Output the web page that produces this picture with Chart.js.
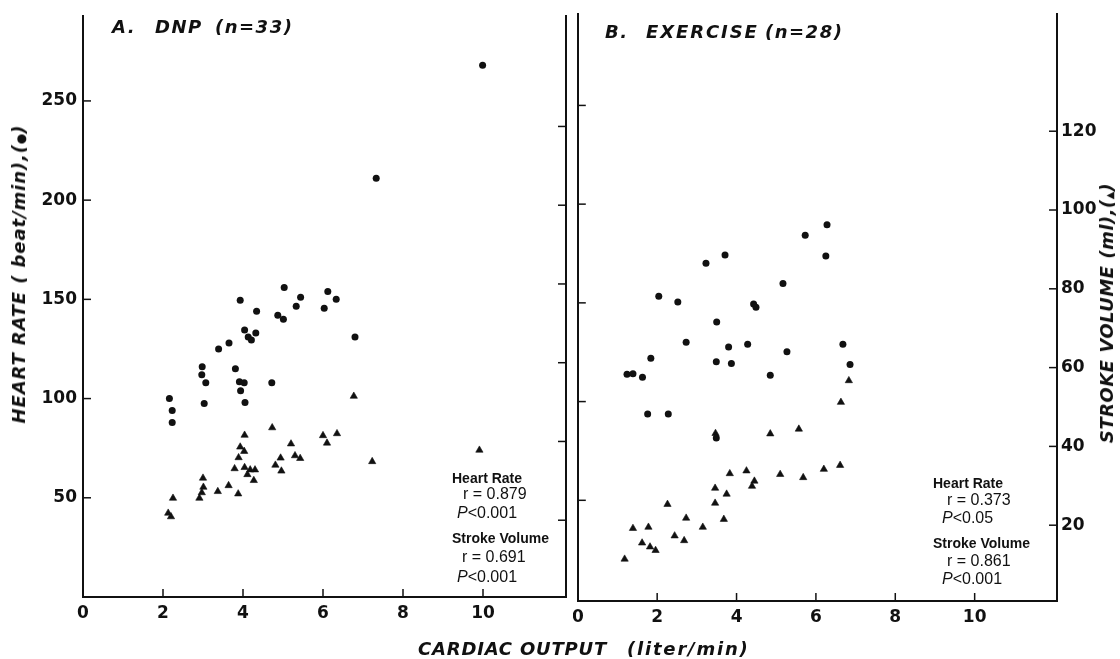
<!DOCTYPE html>
<html>
<head>
<meta charset="utf-8">
<title>Heart rate and stroke volume vs cardiac output</title>
<script src="https://cdn.jsdelivr.net/npm/chart.js@4.4.1/dist/chart.umd.min.js"></script>
<style>
  html, body { margin: 0; padding: 0; background: #fff; }
  #wrap { position: relative; width: 1120px; height: 659px; overflow: hidden; background: #fff; color: #111; }
  canvas { position: absolute; top: 0; }
  #cvA { left: 0; }
  #cvB { left: 573px; }
  .t { position: absolute; white-space: pre; transform: translateY(-50%); line-height: 1; }
  .it { font-family: "DejaVu Sans", sans-serif; font-style: italic; font-weight: bold; font-size: 18px; letter-spacing: 1.5px; }
  .st { font-family: "Liberation Sans", Arial, sans-serif; font-size: 16px; }
  .st b { font-size: 14px; }
  .sym { font-size: 12px; font-style: normal; letter-spacing: 0; }
  .rot { position: absolute; white-space: pre; line-height: 1; transform: translate(-50%, -50%) rotate(-90deg); }
</style>
</head>
<body>
<div id="wrap">
  <canvas id="cvA" width="572" height="659"></canvas>
  <canvas id="cvB" width="547" height="659"></canvas>

  <!-- panel titles -->
  <div class="t it" style="left:112px;top:27px">A.</div>
  <div class="t it" style="left:155px;top:27px">DNP</div>
  <div class="t it" style="left:215px;top:27px">(n=33)</div>
  <div class="t it" style="left:605px;top:32px">B.</div>
  <div class="t it" style="left:646px;top:32px;letter-spacing:1.9px">EXERCISE</div>
  <div class="t it" style="left:765px;top:32px">(n=28)</div>

  <!-- axis titles -->
  <div class="t it" style="left:418px;top:649px;letter-spacing:0.8px">CARDIAC OUTPUT</div>
  <div class="t it" style="left:627px;top:649px;letter-spacing:1.8px">(liter/min)</div>
  <div class="rot it" style="left:19px;top:274px;letter-spacing:0.9px">HEART RATE ( beat/min),(<span class="sym">●</span>)</div>
  <div class="rot it" style="left:1107px;top:313px;letter-spacing:0.5px">STROKE VOLUME (ml),(<span class="sym" style="font-size:10px">▲</span>)</div>

  <!-- stats A -->
  <div class="t st" style="left:452px;top:478px"><b>Heart Rate</b></div>
  <div class="t st" style="left:463px;top:494px">r = 0.879</div>
  <div class="t st" style="left:457px;top:513px"><i>P</i>&lt;0.001</div>
  <div class="t st" style="left:452px;top:538px"><b>Stroke Volume</b></div>
  <div class="t st" style="left:462px;top:557px">r = 0.691</div>
  <div class="t st" style="left:457px;top:577px"><i>P</i>&lt;0.001</div>

  <!-- stats B -->
  <div class="t st" style="left:933px;top:483px"><b>Heart Rate</b></div>
  <div class="t st" style="left:947px;top:500px">r = 0.373</div>
  <div class="t st" style="left:942px;top:518px"><i>P</i>&lt;0.05</div>
  <div class="t st" style="left:933px;top:543px"><b>Stroke Volume</b></div>
  <div class="t st" style="left:947px;top:561px">r = 0.861</div>
  <div class="t st" style="left:942px;top:579px"><i>P</i>&lt;0.001</div>
</div>

<script>
// tick values
const coTicks = [0, 2, 4, 6, 8, 10];
const hrTicks = [50, 100, 150, 200, 250];
const svTicks = [20, 40, 60, 80, 100, 120];

// A. DNP : heart rate (dots)
const dnpCoHr = [5.03, 5.44, 6.12, 6.33, 3.93, 5.33, 6.03, 4.34, 4.87, 5.01, 4.04, 4.32, 4.13, 4.21, 6.80, 3.65,
                 3.39, 2.98, 3.81, 2.97, 3.07, 3.91, 4.03, 4.72, 3.94, 2.16, 3.03, 4.05, 2.23, 2.23, 9.99, 7.33];
const dnpHr   = [156, 151, 154, 150, 149.5, 146.5, 145.5, 144, 142, 140, 134.5, 133, 131, 129.5, 131, 128,
                 125, 116, 115, 112, 108, 108.5, 108, 108, 104, 100, 97.5, 98, 94, 88, 268, 211];
// A. DNP : stroke volume (triangles)
const dnpCoSv = [4.73, 4.04, 6.00, 6.35, 6.10, 5.20, 3.93, 4.03, 3.89, 4.94, 5.30, 5.43, 7.23, 3.79, 4.04, 4.18, 4.30,
                 4.11, 4.27, 4.81, 4.96, 3.00, 3.01, 2.97, 2.91, 3.37, 3.64, 3.88, 2.25, 2.13, 2.20, 6.77, 9.91];
const dnpSv   = [43.5, 41.6, 41.5, 42.0, 39.6, 39.4, 38.6, 37.5, 35.9, 35.8, 36.4, 35.7, 34.9, 33.1, 33.4, 32.8, 32.8,
                 31.6, 30.1, 34.0, 32.5, 30.7, 28.4, 27.0, 25.6, 27.3, 28.8, 26.7, 25.6, 21.8, 20.9, 51.5, 37.8];

// B. EXERCISE : heart rate (dots)
const exCoHr = [6.28, 5.73, 6.25, 3.71, 3.23, 5.17, 2.04, 2.52, 4.43, 4.49, 3.50, 2.73, 3.80, 4.28, 5.27, 6.68,
                1.84, 3.49, 3.87, 6.86, 1.24, 1.39, 1.63, 4.85, 1.76, 2.28, 3.49];
const exHr   = [189.5, 184.3, 173.7, 174.3, 170.0, 159.8, 153.4, 150.4, 149.4, 147.8, 140.3, 130.0, 127.7, 129.1, 125.2, 129.1,
                122.0, 120.2, 119.3, 118.8, 113.8, 114.1, 112.3, 113.4, 93.7, 93.7, 81.5];
// B. EXERCISE : stroke volume (triangles)
const exCoSv = [6.83, 6.63, 5.57, 4.85, 3.47, 6.61, 6.20, 4.25, 3.83, 5.10, 5.68, 4.45, 4.39, 3.46,
                3.75, 3.46, 2.26, 2.73, 3.68, 3.15, 1.39, 1.78, 2.44, 2.68, 1.62, 1.82, 1.96, 1.18];
const exSv   = [56.7, 51.2, 44.4, 43.2, 43.3, 35.2, 34.2, 33.8, 33.1, 32.9, 32.1, 31.2, 29.9, 29.4,
                27.9, 25.6, 25.3, 21.8, 21.5, 19.5, 19.2, 19.5, 17.3, 16.1, 15.5, 14.5, 13.6, 11.4];

const ink = '#111';
const tickFont = { family: 'DejaVu Sans', size: 17, weight: 'bold' };

// tick marks point into the plot, like the printed figure
const inwardTicks = {
  id: 'inwardTicks',
  afterDatasetsDraw(chart) {
    const { ctx, chartArea: a } = chart;
    ctx.save();
    ctx.strokeStyle = ink;
    ctx.lineWidth = 1.5;
    Object.values(chart.scales).forEach(s => {
      s.ticks.forEach(t => {
        const p = s.getPixelForValue(t.value);
        ctx.beginPath();
        if (s.isHorizontal()) { ctx.moveTo(p, a.bottom); ctx.lineTo(p, a.bottom - 8); }
        else if (s.position === 'left') { ctx.moveTo(a.left, p); ctx.lineTo(a.left + 8, p); }
        else { ctx.moveTo(a.right, p); ctx.lineTo(a.right - 8, p); }
        ctx.stroke();
      });
    });
    ctx.restore();
  }
};

function pts(xs, ys) { return xs.map((x, i) => ({ x: x, y: ys[i] })); }
function fixTicks(list) { return s => { s.ticks = list.map(v => ({ value: v })); }; }

const noGrid = { display: false, drawTicks: false };

function panel(id, o) {
  new Chart(document.getElementById(id), {
    type: 'scatter',
    data: {
      datasets: [
        { data: pts(o.coHr, o.hr), yAxisID: 'hr', pointStyle: 'circle', pointRadius: 3.5,
          backgroundColor: ink, borderWidth: 0 },
        { data: pts(o.coSv, o.sv), yAxisID: 'sv', pointStyle: 'triangle', pointRadius: 4.2,
          backgroundColor: ink, borderColor: ink, borderWidth: 0.6 }
      ]
    },
    options: {
      responsive: false,
      animation: false,
      events: [],
      layout: { padding: o.pad },
      plugins: { legend: { display: false }, tooltip: { enabled: false } },
      scales: {
        x: {
          type: 'linear', position: 'bottom', min: 0, max: o.xMax,
          grid: noGrid, border: { color: ink, width: 2 },
          afterBuildTicks: fixTicks(coTicks),
          afterFit: s => { s.height = o.xH; s.paddingLeft = 0; s.paddingRight = 0; },
          ticks: { color: ink, font: tickFont, padding: 6, maxRotation: 0, autoSkip: false }
        },
        hr: {
          type: 'linear', position: 'left', min: o.hrMin, max: o.hrMax,
          grid: noGrid, border: { color: ink, width: 2 },
          afterBuildTicks: fixTicks(hrTicks),
          afterFit: s => { s.width = o.hrW; },
          ticks: { display: o.hrLabels, color: ink, font: tickFont, padding: 6 }
        },
        sv: {
          type: 'linear', position: 'right', min: o.svMin, max: o.svMax,
          grid: noGrid, border: { color: ink, width: 2 },
          afterBuildTicks: fixTicks(svTicks),
          afterFit: s => { s.width = o.svW; },
          ticks: { display: o.svLabels, color: ink, font: tickFont, padding: 4 }
        }
      }
    },
    plugins: [inwardTicks]
  });
}

panel('cvA', {
  coHr: dnpCoHr, hr: dnpHr, coSv: dnpCoSv, sv: dnpSv,
  pad: { left: 0, right: 6, top: 13, bottom: 0 },
  xMax: 12.075, xH: 62,
  hrMin: 0, hrMax: 292.7, hrW: 83, hrLabels: true,
  svMin: 0.5, svMax: 148, svW: 0, svLabels: false
});

panel('cvB', {
  coHr: exCoHr, hr: exHr, coSv: exCoSv, sv: exSv,
  pad: { left: 0, right: 0, top: 14, bottom: 0 },
  xMax: 12.075, xH: 58,
  hrMin: -1, hrMax: 296.2, hrW: 1, hrLabels: false,
  svMin: 0.76, svMax: 149.7, svW: 63, svLabels: true
});
</script>
</body>
</html>
